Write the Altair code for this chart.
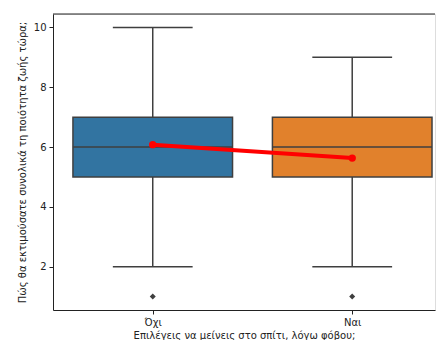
import altair as alt
import pandas as pd

categories = ["Όχι", "Ναι"]
q1 = [5, 5]
median = [6, 6]
q3 = [7, 7]
whisk_lo = [2, 2]
whisk_hi = [10, 9]
outlier_vals = [1, 1]
means = [6.08, 5.63]
box_colors = ["#3274a1", "#e1812c"]
y_ticks = [2, 4, 6, 8, 10]

df = pd.DataFrame({
    "cat": categories, "xi": list(range(len(categories))), "q1": q1, "median": median,
    "q3": q3, "lo": whisk_lo, "hi": whisk_hi, "out": outlier_vals, "mean": means,
})

GRAY = "#3f3f3f"
SPINE = "#222"
FONT = "DejaVu Sans"

label_expr = " : ".join(
    [f"datum.value == {i} ? '{c}'" for i, c in enumerate(categories)] + ["''"])

xscale = alt.Scale(domain=[-0.5, 1.415], nice=False, zero=False)
xaxis = alt.Axis(title="Επιλέγεις να μείνεις στο σπίτι, λόγω φόβου;", labelAngle=0,
                 values=list(range(len(categories))), labelExpr=label_expr, grid=False,
                 domainColor=SPINE, tickColor=SPINE, tickSize=4, labelPadding=3,
                 labelFontSize=10, titleFontSize=10, labelFont=FONT, titleFont=FONT,
                 labelColor=SPINE, titleColor=SPINE, titleFontWeight="normal",
                 titlePadding=3)
yscale = alt.Scale(domain=[0.55, 10.45], nice=False, zero=False)
yaxis = alt.Axis(title="Πώς θα εκτιμούσατε συνολικά τη ποιότητα ζωής τώρα;", values=y_ticks,
                 format="d", grid=False, domainColor=SPINE, tickColor=SPINE, tickSize=4,
                 labelPadding=3, labelFontSize=10, titleFontSize=10, labelFont=FONT,
                 titleFont=FONT, labelColor=SPINE, titleColor=SPINE,
                 titleFontWeight="normal", titlePadding=6)

base = alt.Chart(df).transform_calculate(
    bx0="datum.xi - 0.4", bx1="datum.xi + 0.4",
    cx0="datum.xi - 0.2", cx1="datum.xi + 0.2")

X = alt.X("xi:Q", scale=xscale, axis=xaxis)

whisk_low = base.mark_rule(color=GRAY, strokeWidth=1.5).encode(
    x=X, y=alt.Y("lo:Q", scale=yscale, axis=yaxis), y2="q1:Q")
whisk_high = base.mark_rule(color=GRAY, strokeWidth=1.5).encode(
    x=alt.X("xi:Q", scale=xscale), y=alt.Y("q3:Q", scale=yscale), y2="hi:Q")
cap_lo = base.mark_rule(color=GRAY, strokeWidth=1.5).encode(
    x=alt.X("cx0:Q", scale=xscale), x2="cx1:Q", y=alt.Y("lo:Q", scale=yscale))
cap_hi = base.mark_rule(color=GRAY, strokeWidth=1.5).encode(
    x=alt.X("cx0:Q", scale=xscale), x2="cx1:Q", y=alt.Y("hi:Q", scale=yscale))
box = base.mark_rect(stroke=GRAY, strokeWidth=1.5).encode(
    x=alt.X("bx0:Q", scale=xscale), x2="bx1:Q",
    y=alt.Y("q1:Q", scale=yscale), y2="q3:Q",
    color=alt.Color("cat:N", scale=alt.Scale(domain=categories, range=box_colors), legend=None))
med = base.mark_rule(color=GRAY, strokeWidth=1.5).encode(
    x=alt.X("bx0:Q", scale=xscale), x2="bx1:Q", y=alt.Y("median:Q", scale=yscale))
outl = base.mark_point(shape="diamond", filled=True, color=GRAY, size=36, opacity=1).encode(
    x=alt.X("xi:Q", scale=xscale), y=alt.Y("out:Q", scale=yscale))
mean_line = base.mark_line(color="red", strokeWidth=4).encode(
    x=alt.X("xi:Q", scale=xscale), y=alt.Y("mean:Q", scale=yscale))
mean_pts = base.mark_point(color="red", filled=True, size=55, opacity=1).encode(
    x=alt.X("xi:Q", scale=xscale), y=alt.Y("mean:Q", scale=yscale))
top_spine = alt.Chart(pd.DataFrame({"a": [0]})).mark_rule(color=SPINE, strokeWidth=1).encode(
    x=alt.value(0), x2=alt.value({"expr": "width"}), y=alt.value(0))

chart = alt.layer(whisk_low, whisk_high, cap_lo, cap_hi, box, med, outl,
                  mean_line, mean_pts, top_spine).properties(
    width=428, height=332,
    autosize=alt.AutoSizeParams(type="fit", contains="padding"),
    padding={"left": 9, "top": 5, "right": 0, "bottom": 0}
).configure_view(stroke="transparent", strokeWidth=0).configure(background="white")

chart.save("out.html", embed_options={"renderer": "svg", "actions": False})
